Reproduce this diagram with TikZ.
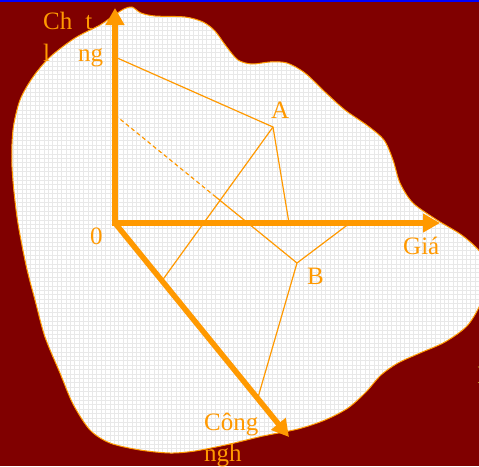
\documentclass[tikz,border=0pt]{standalone}
\usepackage{fontspec}
\setmainfont{Liberation Serif}
\usetikzlibrary{arrows.meta,calc}
\definecolor{bgred}{RGB}{128,0,0}
\definecolor{axorange}{RGB}{255,153,0}
\definecolor{gridgray}{RGB}{232,232,232}
\definecolor{edgeyellow}{RGB}{200,200,40}
\def\blobpath{plot[smooth cycle, tension=0.5] coordinates {
(100,25) (113,16) (124,9) (132,7) (141,13) (155,16) (185,17) (203,22) (215,31)
(226,46) (238,60) (252,64) (270,62) (287,63) (305,73) (325,92) (345,110) (368,126)
(384,140) (393,160) (400,183) (413,203) (437,220) (463,236) (482,255) (487,282)
(480,305) (467,326) (445,342) (420,353) (398,363) (381,375) (366,392) (348,408)
(325,420) (298,429) (263,436) (230,444) (195,451) (170,453) (140,450) (110,443)
(90,430) (73,404) (60,373) (45,337) (35,300) (26,265) (17,217) (12,167) (13,130)
(20,100) (33,77) (50,57) (75,38)}}
\begin{document}
\begin{tikzpicture}[x=1pt,y=-1pt,
  lbl/.style={text=axorange, font=\fontsize{25}{30}\selectfont, inner sep=0pt, anchor=base west},
  guide/.style={draw=axorange, line width=1.2pt},
  axisline/.style={draw=axorange, line width=5.5pt},
  tip/.style={-{Triangle[length=17pt,width=18pt]}}]
\useasboundingbox (0,0) rectangle (479,466);
\fill[bgred] (0,0) rectangle (479,466);
\fill[blue] (0,0) rectangle (479,2);
% blob
\fill[white] \blobpath;
\begin{scope}
  \clip \blobpath;
  \foreach \i in {0,...,112} {
    \draw[gridgray, line width=0.7pt] (\i*4.4,0) -- (\i*4.4,466);
  }
  \foreach \j in {0,...,108} {
    \draw[gridgray, line width=0.7pt] (0,\j*4.4) -- (479,\j*4.4);
  }
\end{scope}
\draw[axorange, line width=1pt] \blobpath;
% coordinates
\coordinate (O) at (115,223);
\coordinate (Ytip) at (115,8);
\coordinate (Xtip) at (440,223);
\coordinate (Dtip) at (289,437);
\coordinate (A) at (273,127);
\coordinate (B) at (297,263);
\coordinate (Ay) at (115,57);
\coordinate (Ax) at (289,223);
\coordinate (Ad) at ($(O)!0.27!(Dtip)$);
\coordinate (By) at (115,115);
\coordinate (Bx) at (350,223);
\coordinate (Bd) at ($(O)!0.82!(Dtip)$);
\coordinate (Bm) at ($(By)!0.54!(B)$);
% guide lines
\draw[guide] (Ay) -- (A) -- (Ax);
\draw[guide] (A) -- (Ad);
\draw[guide] (Bx) -- (B) -- (Bd);
\draw[guide, dash pattern=on 4pt off 3pt] (By) -- (Bm);
\draw[guide] (Bm) -- (B);
% axes
\draw[axisline, {Triangle[length=17pt,width=18pt]}-{Triangle[length=17pt,width=18pt]}] (Ytip) -- (O) -- (Xtip);
\draw[axisline, tip] (O) -- (Dtip);
% labels
\node[lbl] (chat) at (43,29) {Ch\hspace{13pt}t};
\node[lbl] (luong) at (43,61) {l\hspace{28pt}ng};
\node[lbl] (zero) at (90,244) {0};
\node[lbl] (gia) at (403,254) {Giá};
\node[lbl] (la) at (271,118) {A};
\node[lbl] (lb) at (307,284) {B};
\node[lbl] (cong) at (204,430) {Công};
\node[lbl] (ngh) at (204,461) {ngh};
\node[lbl, text=edgeyellow] (edge) at (477,383) {I};
\end{tikzpicture}
\end{document}
